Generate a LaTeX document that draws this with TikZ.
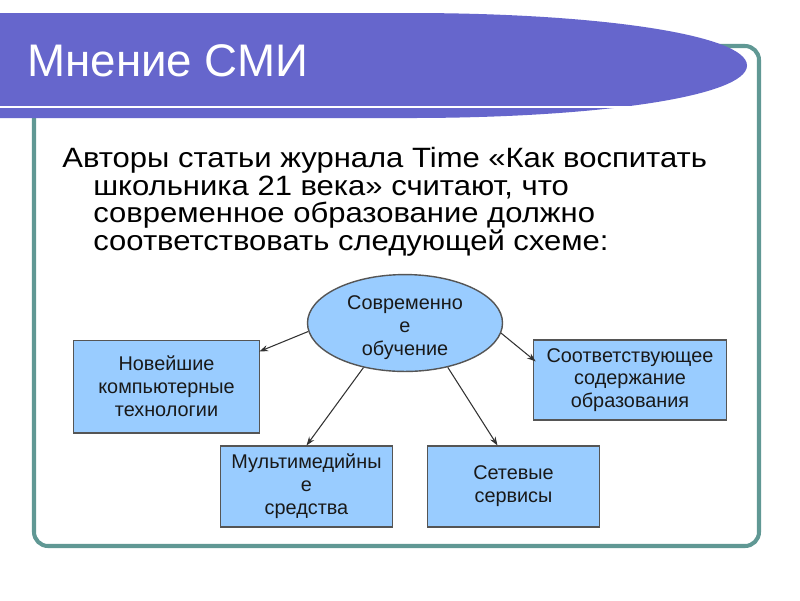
\documentclass[tikz,border=0pt]{standalone}
\usepackage{fontspec}
\setmainfont{Liberation Sans}
\newfontfamily\bodyfont[FakeStretch=1.11]{Liberation Sans}
\usetikzlibrary{shapes.geometric,arrows.meta,calc}
\definecolor{bannerc}{RGB}{102,102,204}
\definecolor{framec}{RGB}{96,152,148}
\definecolor{boxfill}{RGB}{153,204,255}
\definecolor{boxline}{RGB}{85,85,85}
\definecolor{txtdark}{RGB}{25,25,25}
\definecolor{connc}{RGB}{50,50,50}
\begin{document}
\begin{tikzpicture}[x=0.02cm,y=-0.02cm,
  bodyline/.style={anchor=base west, inner sep=0pt, text=black, font=\bodyfont\fontsize{15.9}{18}\selectfont},
  boxnode/.style={draw=boxline, fill=boxfill, line width=0.8pt, align=center, inner sep=0pt,
    text=txtdark, font=\fontsize{11.3}{13}\selectfont},
  conn/.style={draw=connc, line width=0.6pt, -{Stealth[length=5pt,width=3.5pt]}}]
\useasboundingbox (0,0) rectangle (800,600);
\fill[white] (0,0) rectangle (800,600);
% frame
\draw[framec, line width=2.3pt, rounded corners=8pt] (34,46) rectangle (759,546);
% banner
\fill[bannerc] (0,13) -- (410,13) .. controls (600,13) and (747,35) .. (747,65.5)
  .. controls (747,96) and (600,118) .. (410,118) -- (0,118) -- cycle;
\draw[white, line width=0.9pt] (0,107) -- (700,107);
\node[anchor=base west, inner sep=0pt, text=white, font=\fontsize{26}{30}\selectfont] (title) at (27,76) {Мнение СМИ};
% body text
\node[bodyline] (l1) at (62,167) {Авторы статьи журнала Time «Как воспитать};
\node[bodyline] (l2) at (93,195) {школьника 21 века» считают, что};
\node[bodyline] (l3) at (93,222.5) {современное образование должно};
\node[bodyline] (l4) at (93,250) {соответствовать следующей схеме:};
% diagram
\node[boxnode, ellipse, minimum width=111pt, minimum height=54.5pt] (e) at (405,323)
  {\raisebox{-2.8pt}[\height][\depth]{\begin{tabular}{@{}c@{}}Современно\\е\\обучение\end{tabular}}};
\node[boxnode, rectangle, minimum width=106pt, minimum height=52.7pt] (b1) at (166.5,386.5)
  {\raisebox{-1.5pt}[\height][\depth]{\begin{tabular}{@{}c@{}}Новейшие\\компьютерные\\технологии\end{tabular}}};
\node[boxnode, rectangle, minimum width=110pt, minimum height=45.4pt] (b2) at (630,380) {Соответствующее\\содержание\\образования};
\node[boxnode, rectangle, minimum width=98.1pt, minimum height=45.9pt] (b3) at (306.5,486.5) {Мультимедийны\\е\\средства};
\node[boxnode, rectangle, minimum width=98.1pt, minimum height=45.9pt] (b4) at (513.5,486.5) {Сетевые\\сервисы};
\draw[conn] (e.185) -- ($(b1.north east)+(-1,12)$);
\draw[conn] (e.-6) -- ($(b2.north west)+(3,22)$);
\draw[conn] (e.-133) -- (b3.north);
\draw[conn] (e.-46) -- ($(b4.north)+(-16,0)$);
\end{tikzpicture}
\end{document}
